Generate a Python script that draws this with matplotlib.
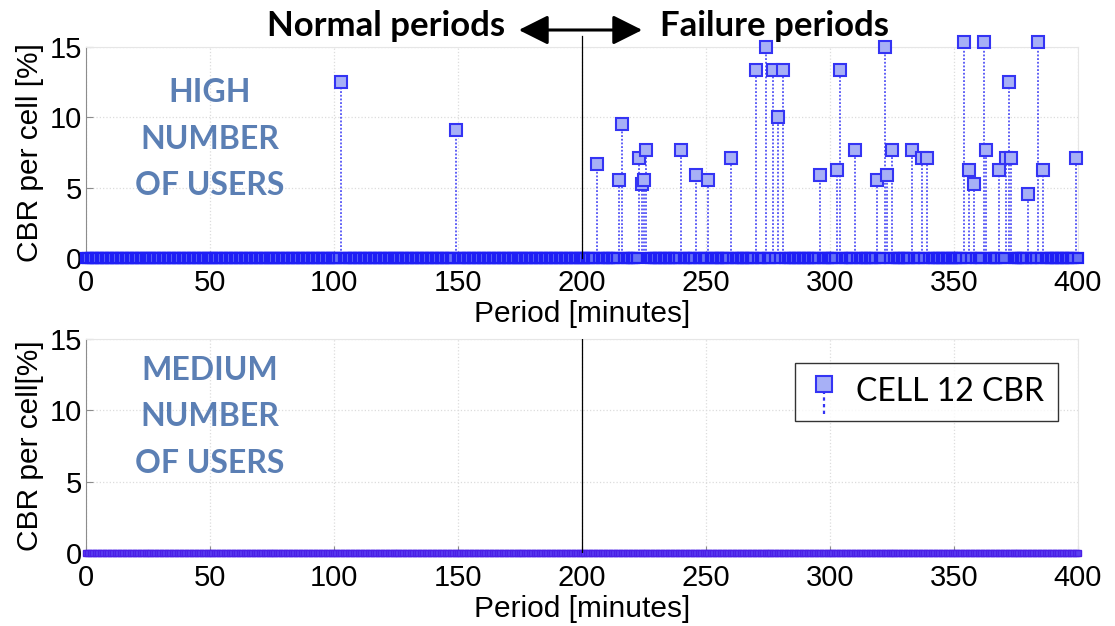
import numpy as np
import matplotlib
matplotlib.use("Agg")
import matplotlib.pyplot as plt
from matplotlib.lines import Line2D
from matplotlib.legend_handler import HandlerBase

# ---------------- data ----------------
minutes = np.arange(0, 401)  # one sample per minute
# non-zero CBR samples in the HIGH-users scenario (minute, CBR %)
high_event_minutes = [103, 149, 206, 215, 216, 223, 224, 225, 226, 240, 246, 251,
                      260, 270, 274, 277, 279, 281, 296, 303, 304, 310, 319, 322,
                      323, 325, 333, 337, 339, 354, 356, 358, 362, 363, 368, 371,
                      372, 373, 380, 384, 386, 399]
high_event_values = [12.5, 9.09, 6.67, 5.56, 9.52, 7.14, 5.26, 5.56, 7.69, 7.69, 5.88, 5.56,
                     7.14, 13.33, 15.0, 13.33, 10.0, 13.33, 5.88, 6.25, 13.33, 7.69, 5.56, 15.0,
                     5.88, 7.69, 7.69, 7.14, 7.14, 15.38, 6.25, 5.26, 15.38, 7.69, 6.25, 7.14,
                     12.5, 7.14, 4.55, 15.38, 6.25, 7.14]
high_cbr = np.zeros(len(minutes))
high_cbr[np.searchsorted(minutes, high_event_minutes)] = high_event_values
medium_cbr = np.zeros(len(minutes))  # all zero in MEDIUM-users scenario

failure_start = 200
xticks = [0, 50, 100, 150, 200, 250, 300, 350, 400]
yticks = [0, 5, 10, 15]
legend_label = "CELL 12 CBR"

# ---------------- style ----------------
EDGE = "#3434f4"
FACE = "#a7b0f6"
TXT_BLUE = "#5b7fb4"
W, H = 1115, 626
fig = plt.figure(figsize=(W / 100, H / 100), dpi=100)

def px_axes(l, r, t, b):
    return [l / W, 1 - b / H, (r - l) / W, (b - t) / H]

ax1 = fig.add_axes(px_axes(86, 1078, 47, 258))
ax2 = fig.add_axes(px_axes(86, 1078, 339, 553))


def style_axes(ax, ylabel):
    ax.set_xlim(0, 400)
    ax.set_ylim(0, 15)
    ax.set_xticks(xticks)
    ax.set_yticks(yticks)
    ax.grid(True, color="#dcdcdc", linestyle=":", linewidth=0.9)
    ax.set_axisbelow(True)
    for s in ["top", "right"]:
        ax.spines[s].set_color("#e6e6e6")
    ax.spines["left"].set_color("#8c8c8c")
    ax.spines["bottom"].set_color("#8c8c8c")
    ax.tick_params(direction="in", length=5, color="#8c8c8c", labelsize=21,
                   labelcolor="black", pad=3)
    ax.tick_params(axis="x", pad=8)
    for lab in ax.get_xticklabels() + ax.get_yticklabels():
        lab.set_fontfamily("Liberation Sans")
    ax.set_xlabel("Period [minutes]", fontsize=21.5, family="Liberation Sans",
                  labelpad=2)
    ax.set_ylabel(ylabel, fontsize=21.5, family="Liberation Sans", labelpad=4)


style_axes(ax1, "CBR per cell [%]")
style_axes(ax2, "CBR per cell[%]")

# ---- top: stems ----
nz = high_cbr > 0
ax1.vlines(minutes[nz], 0, high_cbr[nz], colors=EDGE, linestyles=(0, (1.2, 1.2)),
           linewidth=1.1, zorder=3)
ax1.plot(minutes[~nz], high_cbr[~nz], linestyle="none", marker="s", markersize=6.5,
         markerfacecolor="#6570f6", markeredgecolor="#1f1ff5", markeredgewidth=1.6,
         zorder=4, clip_on=False)
ax1.plot(minutes[nz], high_cbr[nz], linestyle="none", marker="s", markersize=8,
         markerfacecolor=FACE, markeredgecolor=EDGE, markeredgewidth=1.5,
         zorder=5, clip_on=False)
ax1.plot([failure_start, failure_start], [0, 15.8], color="black", linewidth=0.9,
         zorder=6, clip_on=False)

# ---- bottom ----
ax2.plot(minutes, medium_cbr, linestyle="none", marker="s", markersize=4.2,
         markerfacecolor="#5a3ef0", markeredgecolor="#4a1fe6", markeredgewidth=1.0,
         zorder=4, clip_on=False)
ax2.plot([failure_start, failure_start], [0, 15], color="black", linewidth=0.9,
         zorder=6)


class StemHandler(HandlerBase):
    def create_artists(self, legend, orig_handle, xdescent, ydescent, width, height,
                       fontsize, trans):
        cx = width / 2 - xdescent
        cy = height / 2 - ydescent + 4
        stem = Line2D([cx, cx], [cy, cy - 22], color=EDGE, linestyle=(0, (1.5, 1.5)),
                      linewidth=1.6, transform=trans)
        mk = Line2D([cx], [cy], marker="s", markersize=11, linestyle="none",
                    markerfacecolor=FACE, markeredgecolor=EDGE, markeredgewidth=1.5,
                    transform=trans)
        return [stem, mk]


proxy = Line2D([], [])
leg = ax2.legend([proxy], [legend_label], handler_map={Line2D: StemHandler()},
                 loc="upper right", bbox_to_anchor=(0.98, 0.89), borderaxespad=0,
                 prop={"family": "Lato", "size": 23}, frameon=True, fancybox=False,
                 handlelength=0.9, handletextpad=0.55, borderpad=0.45)
leg.get_frame().set_edgecolor("black")
leg.get_frame().set_linewidth(1.0)

# ---- annotations ----
fig.text(210 / W, 1 - 139 / H, "HIGH\nNUMBER\nOF USERS", ha="center", va="center",
         color=TXT_BLUE, fontsize=23, fontweight="bold", family="Lato",
         linespacing=1.72)
fig.text(210 / W, 1 - 417 / H, "MEDIUM\nNUMBER\nOF USERS", ha="center", va="center",
         color=TXT_BLUE, fontsize=23, fontweight="bold", family="Lato",
         linespacing=1.72)

fig.text(505 / W, 1 - 26 / H, "Normal periods", ha="right", va="center",
         fontsize=25, fontweight="bold", family="Lato")
fig.text(660 / W, 1 - 26 / H, "Failure periods", ha="left", va="center",
         fontsize=25, fontweight="bold", family="Lato")
fig.patches.append(matplotlib.patches.FancyArrowPatch(
    (516 / W, 1 - 30 / H), (645 / W, 1 - 30 / H), transform=fig.transFigure,
    arrowstyle="<|-|>,head_length=0.9,head_width=0.45", color="black",
    linewidth=2.2, mutation_scale=20))

fig.savefig("out.png", dpi=100)
